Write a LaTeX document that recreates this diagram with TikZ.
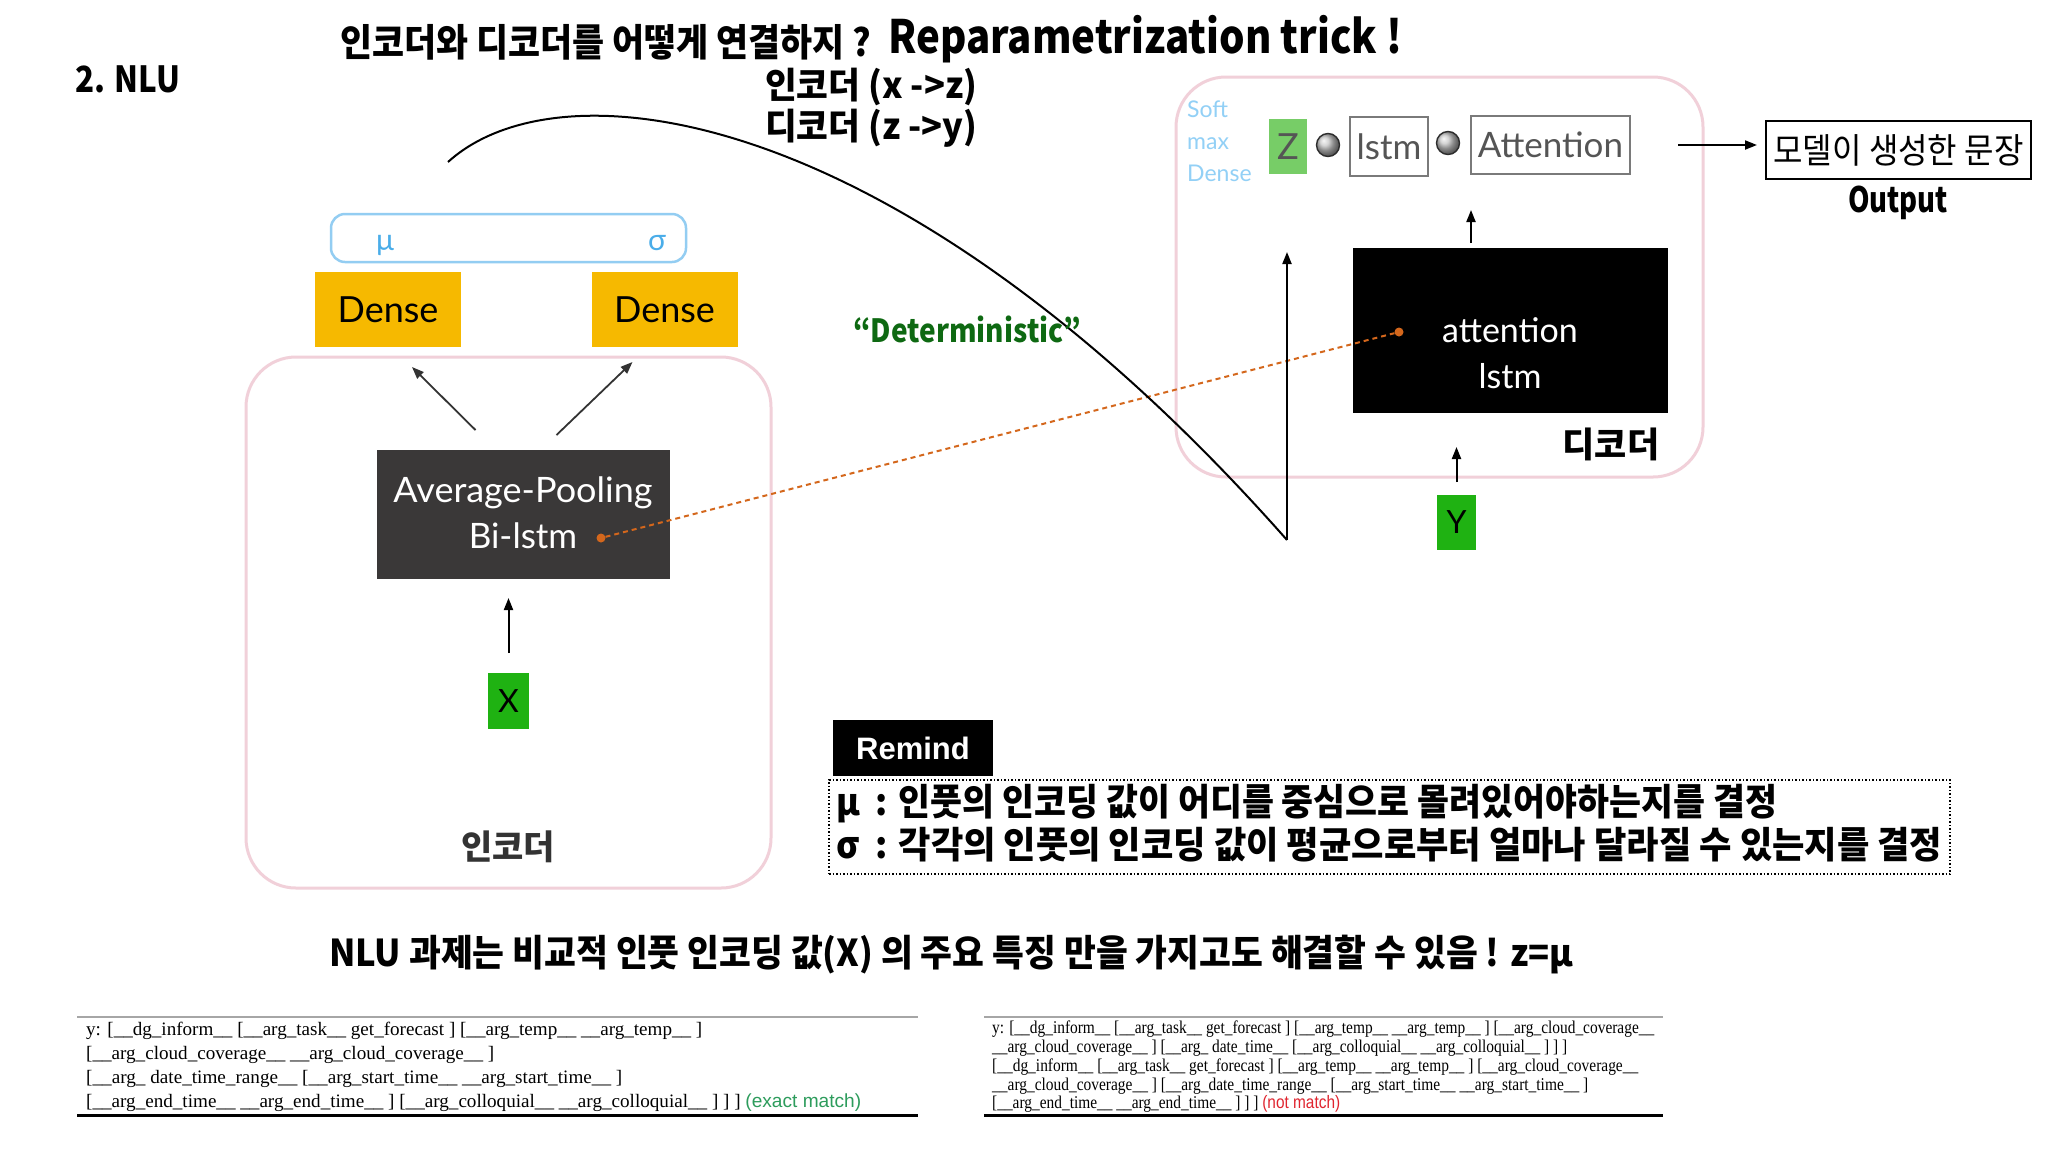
\documentclass[tikz,border=0pt]{standalone}
\usepackage{fontspec}
\usepackage{graphicx}
\usetikzlibrary{arrows.meta,calc}
\setmainfont{Noto Sans CJK KR}
\newfontfamily\lat{Lato}
\newfontfamily\ser{Liberation Serif}
\newfontfamily\ars{Liberation Sans}
\newcommand\fitx[2]{\resizebox{#1}{\height}{#2}}
\newcommand\fs[1]{\fontsize{#1}{#1}\selectfont}
\definecolor{pinkb}{HTML}{F1D0D9}
\definecolor{mub}{HTML}{93CDF2}
\definecolor{mut}{HTML}{4AADE9}
\definecolor{densey}{HTML}{F6B900}
\definecolor{avgfill}{HTML}{3A3838}
\definecolor{xgreen}{HTML}{1FB212}
\definecolor{zgreen}{HTML}{77CD67}
\definecolor{softb}{HTML}{92D0F6}
\definecolor{orng}{HTML}{D4671C}
\definecolor{detg}{HTML}{0E6912}
\definecolor{exg}{HTML}{2D9C5C}
\definecolor{nmr}{HTML}{E0252F}
\definecolor{arrg}{HTML}{333333}
\definecolor{txtg}{HTML}{555555}
\definecolor{boxg}{HTML}{7A7A7A}
\begin{document}
\begin{tikzpicture}[x=1pt,y=-1pt,
  pinkbox/.style={draw=pinkb, line width=3pt, rounded corners=50pt, inner sep=0},
  solidbox/.style={inner sep=0, outer sep=0},
  arr/.style={-{Triangle[length=12pt,width=9pt]}, line width=2pt, black},
  arrd/.style={-{Triangle[length=12pt,width=9pt]}, line width=1.8pt, arrg},
  odot/.style={circle, fill=orng, inner sep=0, minimum size=9pt},
  ball/.style={circle, ball color=gray!45, draw=gray!35!black, line width=1.4pt, inner sep=0, minimum size=23pt},
  lbl/.style={anchor=base west, inner sep=0},
  tline/.style={anchor=base west, inner sep=0, font=\ser\fs{19}},
  rline/.style={anchor=base west, inner sep=0, font=\ser\fs{18}}
]
\useasboundingbox[fill=white] (0,0) rectangle (2048,1152);

% ---------- header ----------
\node[lbl, font=\bfseries\fs{36}] (nlu) at (75,92) {\fitx{105pt}{2. NLU}};
\node[lbl, font=\bfseries\fs{38}] (t1) at (340,56) {\fitx{531pt}{인코더와 디코더를 어떻게 연결하지 ?}};
\node[lbl, font=\bfseries\fs{46}] (t2) at (888,53) {\fitx{514pt}{Reparametrization trick !}};
\node[lbl, font=\bfseries\fs{36}] (encl) at (765,98) {\fitx{212pt}{인코더 (x ->z)}};
\node[lbl, font=\bfseries\fs{36}] (decl) at (765,139) {\fitx{212pt}{디코더 (z ->y)}};

% ---------- encoder ----------
\node[pinkbox, minimum width=525pt, minimum height=531pt] (encbox) at (508.5,622.5) {};
\node[draw=mub, line width=2.5pt, rounded corners=14pt, inner sep=0, minimum width=355pt, minimum height=48pt] (musig) at (508.5,238) {};
\node[lbl, anchor=base, text=mut, font=\lat\fs{30}] (mu) at (385,250) {μ};
\node[lbl, anchor=base, text=mut, font=\lat\fs{30}] (sig) at (657,250) {σ};
\node[solidbox, fill=densey, minimum width=146pt, minimum height=75pt, font=\lat\fs{36}] (dense1) at (388,309.5) {Dense};
\node[solidbox, fill=densey, minimum width=146pt, minimum height=75pt, font=\lat\fs{36}] (dense2) at (664.5,309.5) {Dense};
\node[solidbox, fill=avgfill, minimum width=293pt, minimum height=129pt] (avg) at (523.5,514.5) {};
\node[lbl, anchor=base, text=white, font=\lat\fs{35}] (avgt1) at (523,502) {\fitx{259pt}{Average-Pooling}};
\node[lbl, anchor=base, text=white, font=\lat\fs{35}] (avgt2) at (523,548) {Bi-lstm};
\node[odot] (od1) at (601,538) {};
\draw[arrd] ($(avg.north)+(-48,-20)$) -- ($(dense1.south)+(24,20)$);
\draw[arrd] ($(avg.north)+(33,-15)$) -- ($(dense2.south)+(-32,15)$);
\node[solidbox, fill=xgreen, minimum width=41pt, minimum height=56pt, font=\lat\fs{32}] (xn) at (508.5,701) {X};
\draw[arr, shorten <=20pt, shorten >=19pt] (xn.north) -- (xn.north |- avg.south);
\node[font=\bfseries\fs{34}, text=arrg, inner sep=0] (enclbl) at (508,847) {인코더};

% ---------- decoder ----------
\node[pinkbox, minimum width=527pt, minimum height=400pt] (decbox) at (1439.5,277) {};
\node[lbl, text=softb, font=\lat\fs{23}] (soft) at (1187,117) {Soft};
\node[lbl, text=softb, font=\lat\fs{23}] (smax) at (1187,149) {max};
\node[lbl, text=softb, font=\lat\fs{23}] (sdense) at (1187,181) {Dense};
\node[solidbox, fill=zgreen, minimum width=38pt, minimum height=55pt, text=txtg, font=\lat\fs{36}] (zn) at (1288,146.5) {Z};
\node[ball] (c1) at (1328,145) {};
\node[solidbox, draw=boxg, line width=2pt, minimum width=78pt, minimum height=59pt, text=txtg, font=\lat\fs{35}] (lstmn) at (1389,146.5) {lstm};
\node[ball] (c2) at (1448,143) {};
\node[solidbox, draw=boxg, line width=2pt, minimum width=159pt, minimum height=58pt, text=txtg, font=\lat\fs{35}] (attn) at (1550.5,145) {Attention};
\node[solidbox, draw=black, line width=2.2pt, minimum width=265pt, minimum height=58pt, font=\fs{35}] (outn) at (1898.5,150) {\fitx{250pt}{모델이 생성한 문장}};
\node[lbl, anchor=base, font=\bfseries\fs{35}] (outlbl) at (1898,212) {\fitx{100pt}{Output}};
\draw[arr, shorten <=48pt, shorten >=9pt] (attn.east) -- (attn.east -| outn.west);
\node[solidbox, fill=black, minimum width=315pt, minimum height=165pt] (blk) at (1510.5,330.5) {};
\node[lbl, anchor=base, text=white, font=\lat\fs{34}] (blkt1) at (1510,342) {attention};
\node[lbl, anchor=base, text=white, font=\lat\fs{34}] (blkt2) at (1510,388) {lstm};
\draw[arr, shorten <=5pt, shorten >=36pt] (blk.north -| attn.west) -- (attn.south west);
\node[odot] (od2) at (1399,332) {};
\node[font=\bfseries\fs{35}, inner sep=0] (declbl) at (1611,444) {디코더};
\node[solidbox, fill=xgreen, minimum width=39pt, minimum height=55pt, font=\lat\fs{32}] (yn) at (1456.5,522.5) {Y};
\draw[arr, shorten <=13pt, shorten >=34pt] (yn.north) -- (yn.north |- blk.south);

% ---------- connections ----------
\draw[orng, line width=2pt, dash pattern=on 5pt off 4pt] (od1) -- (od2);
\coordinate (cs) at (448,162);
\coordinate (ce) at (1287,540);
\coordinate (ctip) at (1287,252);
\draw[line width=2pt] (cs) .. controls (560,60) and (900,102) .. (ce);
\draw[arr] (ce) -- (ctip);
\node[lbl, text=detg, font=\bfseries\fs{32}] (det) at (853,342) {\fitx{228pt}{“Deterministic”}};

% ---------- remind ----------
\node[solidbox, fill=black, minimum width=160pt, minimum height=56pt, text=white, font=\ars\bfseries\fs{31}] (remind) at (913,748) {Remind};
\node[solidbox, draw=black, dotted, line width=1.5pt, minimum width=1121pt, minimum height=94pt] (remb) at (1389.5,827) {};
\node[lbl, font=\bfseries\fs{37}] (r1) at (836,815) {\fitx{941pt}{μ\ \ : 인풋의 인코딩 값이 어디를 중심으로 몰려있어야하는지를 결정}};
\node[lbl, font=\bfseries\fs{37}] (r2) at (836,858) {\fitx{1106pt}{σ\ \ : 각각의 인풋의 인코딩 값이 평균으로부터 얼마나 달라질 수 있는지를 결정}};

% ---------- conclusion ----------
\node[lbl, font=\bfseries\fs{37}] (concl) at (329,966) {\fitx{1244pt}{NLU 과제는 비교적 인풋 인코딩 값(X) 의 주요 특징 만을 가지고도 해결할 수 있음 ! z=μ}};

% ---------- tables ----------
\draw[gray!70, line width=2pt] (77,1017) -- (918,1017);
\draw[black, line width=3pt] (77,1115) -- (918,1115);
\node[tline] (la) at (86,1035) {\fitx{616pt}{y: [\_\_dg\_inform\_\_ [\_\_arg\_task\_\_ get\_forecast ] [\_\_arg\_temp\_\_ \_\_arg\_temp\_\_ ]}};
\node[tline] (lb) at (86,1059) {\fitx{408pt}{[\_\_arg\_cloud\_coverage\_\_ \_\_arg\_cloud\_coverage\_\_ ]}};
\node[tline] (lc) at (86,1083) {\fitx{536pt}{[\_\_arg\_ date\_time\_range\_\_ [\_\_arg\_start\_time\_\_ \_\_arg\_start\_time\_\_ ]}};
\node[tline] (ld) at (86,1107) {\fitx{775pt}{[\_\_arg\_end\_time\_\_ \_\_arg\_end\_time\_\_ ] [\_\_arg\_colloquial\_\_ \_\_arg\_colloquial\_\_ ] ] ] {\ars\color{exg}(exact match)}}};

\draw[gray!70, line width=2pt] (984,1017) -- (1663,1017);
\draw[black, line width=3pt] (984,1115) -- (1663,1115);
\node[rline] (ra) at (992,1033) {\fitx{662pt}{y: [\_\_dg\_inform\_\_ [\_\_arg\_task\_\_ get\_forecast ] [\_\_arg\_temp\_\_ \_\_arg\_temp\_\_ ] [\_\_arg\_cloud\_coverage\_\_}};
\node[rline] (rb) at (992,1052) {\fitx{575pt}{\_\_arg\_cloud\_coverage\_\_ ] [\_\_arg\_ date\_time\_\_ [\_\_arg\_colloquial\_\_ \_\_arg\_colloquial\_\_ ] ] ]}};
\node[rline] (rc) at (992,1071) {\fitx{646pt}{[\_\_dg\_inform\_\_ [\_\_arg\_task\_\_ get\_forecast ] [\_\_arg\_temp\_\_ \_\_arg\_temp\_\_ ] [\_\_arg\_cloud\_coverage\_\_}};
\node[rline] (rd) at (992,1090) {\fitx{596pt}{\_\_arg\_cloud\_coverage\_\_ ] [\_\_arg\_date\_time\_range\_\_ [\_\_arg\_start\_time\_\_ \_\_arg\_start\_time\_\_ ]}};
\node[rline] (re) at (992,1108) {\fitx{348pt}{[\_\_arg\_end\_time\_\_ \_\_arg\_end\_time\_\_ ] ] ] {\ars\color{nmr}(not match)}}};
\end{tikzpicture}
\end{document}
